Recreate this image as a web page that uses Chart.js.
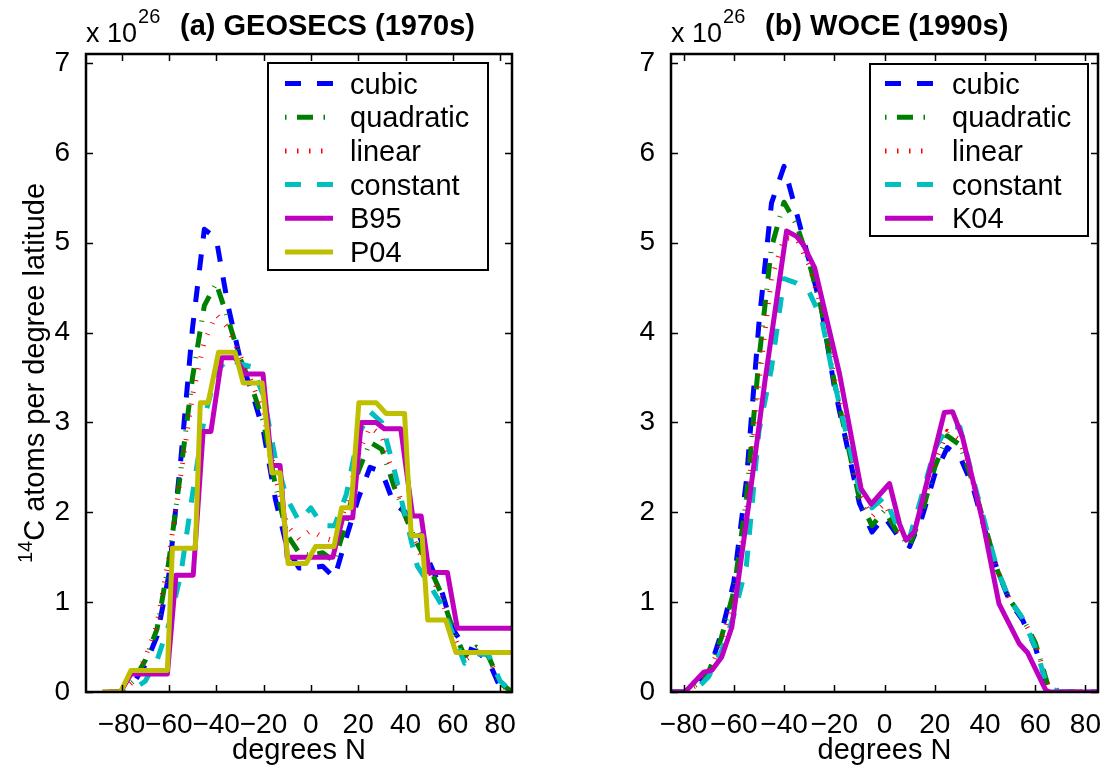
<!DOCTYPE html>
<html>
<head>
<meta charset="utf-8">
<script src="https://cdn.jsdelivr.net/npm/chart.js@4.4.1/dist/chart.umd.min.js"></script>
<style>
  body { margin: 0; background: #fff; overflow: hidden; }
  canvas { position: absolute; top: 0; }
  #graph1 { left: 0; }
  #graph2 { left: 553px; }
</style>
</head>
<body>
<canvas id="graph1" width="553" height="770"></canvas>
<canvas id="graph2" width="553" height="770"></canvas>
<script>
// latitude grid (degrees N) for the four fitted curves
const latGrid = [-85,-80,-75,-70,-65,-60,-55,-50,-45,-40,-35,-30,-25,-20,-15,-10,-5,0,5,10,15,20,25,30,35,40,45,50,55,60,65,70,75,80,85];

// (a) GEOSECS, x 10^26 atoms per degree
const geoCubic = [0,0,0.1,0.3,0.62,1.3,2.57,4.05,5.15,5.05,4.3,3.72,3.35,2.9,2.15,1.6,1.38,1.38,1.4,1.27,1.72,2.15,2.5,2.45,2.1,2.0,1.8,1.45,1.15,0.7,0.5,0.45,0.35,0.05,0];
const geoQuad  = [0,0,0.12,0.35,0.7,1.45,2.45,3.5,4.3,4.55,4.15,3.72,3.4,3.0,2.3,1.75,1.55,1.52,1.55,1.45,1.9,2.45,2.78,2.7,2.3,1.95,1.65,1.4,1.1,0.7,0.4,0.5,0.4,0.1,0];
const geoLin   = [0,0,0.12,0.38,0.75,1.5,2.4,3.3,3.9,4.2,4.05,3.75,3.45,3.1,2.4,1.85,1.7,1.8,1.72,1.68,2.1,2.65,2.95,2.85,2.4,1.95,1.6,1.35,1.05,0.65,0.35,0.45,0.4,0.08,0];
const geoConst = [0,0,0.03,0.12,0.35,0.75,1.3,2.2,3.05,3.55,3.72,3.65,3.62,3.3,2.6,2.15,1.9,2.05,1.85,1.85,2.2,2.85,3.12,3.0,2.5,1.95,1.4,1.2,0.98,0.65,0.32,0.42,0.42,0.12,0];

const b95Lat = [-88,-80.4,-76,-60.6,-57,-49.7,-45.5,-42.2,-37.6,-32,-27.8,-20.2,-16.5,-13,-10,9.3,13.5,17.7,21.3,27.6,31,38,43,46.6,50,57.7,61.9,85];
const b95    = [0,0,0.2,0.2,1.3,1.3,2.9,2.9,3.72,3.72,3.54,3.54,2.52,2.52,1.5,1.5,1.94,1.94,3.0,3.0,2.93,2.93,1.96,1.96,1.33,1.33,0.71,0.71];

const p04Lat = [-88,-80.4,-76,-60.6,-58.5,-48.8,-46.7,-43.4,-39,-32,-28.6,-20.6,-16.5,-13,-9.6,-2,2,9.8,13,17,20.3,27.6,31.8,39.6,42.4,47,49.4,57,61.3,85];
const p04    = [0,0,0.24,0.24,1.6,1.6,3.22,3.22,3.78,3.78,3.44,3.44,2.44,2.44,1.43,1.43,1.62,1.62,2.05,2.05,3.22,3.22,3.1,3.1,1.74,1.74,0.8,0.8,0.44,0.44];

// (b) WOCE
const woceCubic = [0,0,0.08,0.22,0.65,1.22,2.35,4.1,5.44,5.85,5.33,4.8,4.25,3.4,2.75,2.1,1.78,1.95,1.75,1.62,1.95,2.42,2.72,2.62,2.3,1.8,1.35,1.0,0.8,0.5,0.05,0,0,0,0];
const woceQuad  = [0,0,0.08,0.22,0.6,1.12,2.15,3.7,4.95,5.45,5.2,4.78,4.25,3.45,2.8,2.15,1.85,2.02,1.78,1.63,2.0,2.5,2.85,2.75,2.35,1.85,1.35,1.02,0.82,0.55,0.08,0,0,0,0];
const woceLin   = [0,0,0.07,0.2,0.55,1.05,2.0,3.45,4.6,5.05,5.05,4.75,4.25,3.5,2.85,2.2,1.95,2.1,1.8,1.67,2.05,2.55,2.9,2.8,2.35,1.85,1.35,1.02,0.82,0.55,0.08,0,0,0,0];
const woceConst = [0,0,0.03,0.17,0.45,0.85,1.4,2.9,3.6,4.6,4.55,4.45,4.15,3.45,2.85,2.25,2.05,2.17,1.85,1.72,2.2,2.7,2.95,2.95,2.4,1.88,1.35,1.02,0.82,0.5,0.05,0,0,0,0];

const k04Lat = [-88,-79.4,-72,-68.8,-64.8,-60.8,-57.5,-54.2,-50.9,-47.6,-39,-35,-32.4,-27.8,-17.9,-9.3,-5.3,2,6,8.6,11.9,23.8,27.1,31.1,39,45.6,53.6,56.9,64.2,66,85];
const k04    = [0,0,0.22,0.24,0.39,0.72,1.39,2.06,2.76,3.46,5.13,5.07,4.98,4.72,3.54,2.26,2.09,2.32,1.87,1.69,1.78,3.11,3.12,2.83,1.91,0.98,0.54,0.44,0.02,0,0];

const xTicks = [-80,-60,-40,-20,0,20,40,60,80];
const yTicks = [0,1,2,3,4,5,6,7];

const FAMILY = '"Liberation Sans", Arial, sans-serif';

function pts(lats, vals) {
    return lats.map((x, i) => ({ x: x, y: vals[i] }));
}

function line(label, lats, vals, color, dash, legendDash, width) {
    return {
        label: label,
        data: pts(lats, vals),
        borderColor: color,
        backgroundColor: color,
        borderWidth: width || 5,
        borderDash: dash,
        legendDash: legendDash,
        borderJoinStyle: 'round',
        pointRadius: 0,
        tension: 0,
        fill: false
    };
}

// box round the axes with inward ticks on all four sides
const boxPlugin = {
    id: 'boxTicks',
    afterDatasetsDraw(chart) {
        const c = chart.ctx, a = chart.chartArea;
        const xs = chart.scales.x, ys = chart.scales.y;
        c.save();
        c.strokeStyle = '#000';
        c.lineWidth = 1.5;
        c.beginPath();
        for (const v of xTicks) {
            const px = Math.round(xs.getPixelForValue(v)) + 0.5;
            c.moveTo(px, a.bottom); c.lineTo(px, a.bottom - 7);
            c.moveTo(px, a.top); c.lineTo(px, a.top + 7);
        }
        for (const v of yTicks) {
            const py = Math.round(ys.getPixelForValue(v)) + 0.5;
            c.moveTo(a.left, py); c.lineTo(a.left + 7, py);
            c.moveTo(a.right, py); c.lineTo(a.right - 7, py);
        }
        c.stroke();
        c.lineWidth = 2.5;
        c.strokeRect(a.left, a.top, a.right - a.left, a.bottom - a.top);
        c.restore();
    }
};

const textPlugin = {
    id: 'panelText',
    afterDraw(chart, args, opts) {
        const c = chart.ctx, a = chart.chartArea;
        c.save();
        c.fillStyle = '#000';
        c.textBaseline = 'alphabetic';
        c.textAlign = 'left';
        c.font = '27px ' + FAMILY;
        c.fillText('x 10', a.left, 42);
        const w = c.measureText('x 10').width;
        c.font = '20px ' + FAMILY;
        c.fillText('26', a.left + w + 1, 23);
        c.font = 'bold 29px ' + FAMILY;
        c.fillText(opts.title, a.left + 94, 35);
        c.font = '29px ' + FAMILY;
        c.textAlign = 'center';
        c.fillText('degrees N', (a.left + a.right) / 2, 759);
        if (opts.yLabel) {
            const mid = (a.top + a.bottom) / 2;
            c.translate(44, mid);
            c.rotate(-Math.PI / 2);
            c.textAlign = 'left';
            c.font = '20px ' + FAMILY;
            const w1 = c.measureText('14').width;
            c.font = '29px ' + FAMILY;
            const w2 = c.measureText('C atoms per degree latitude').width;
            const x0 = -(w1 + w2) / 2;
            c.font = '20px ' + FAMILY;
            c.fillText('14', x0, -12);
            c.font = '29px ' + FAMILY;
            c.fillText('C atoms per degree latitude', x0 + w1, 0);
        }
        c.restore();
    }
};

const legendPlugin = {
    id: 'boxLegend',
    afterDraw(chart, args, o) {
        const c = chart.ctx;
        c.save();
        c.fillStyle = '#fff';
        c.fillRect(o.x, o.y, o.w, o.h);
        c.strokeStyle = '#000';
        c.lineWidth = 2;
        c.strokeRect(o.x, o.y, o.w, o.h);
        c.font = '29px ' + FAMILY;
        c.textBaseline = 'alphabetic';
        c.textAlign = 'left';
        chart.data.datasets.forEach((ds, i) => {
            const y = o.row0 + i * o.step;
            c.strokeStyle = ds.borderColor;
            c.lineWidth = ds.borderWidth;
            c.setLineDash(ds.legendDash);
            c.lineCap = 'butt';
            c.beginPath();
            c.moveTo(o.s0, y);
            c.lineTo(o.s0 + 48, y);
            c.stroke();
            c.setLineDash([]);
            c.fillStyle = '#000';
            c.fillText(ds.label, o.tx, y + 10);
        });
        c.restore();
    }
};

function makeChart(id, datasets, o) {
    datasets.forEach((d, i) => { d.order = datasets.length - i; });
    const ctx = document.getElementById(id).getContext('2d');
    return new Chart(ctx, {
        type: 'line',
        data: { datasets: datasets },
        options: {
            responsive: false,
            animation: false,
            layout: { padding: { left: 0, right: o.padRight, top: 54, bottom: 0 } },
            plugins: {
                legend: { display: false },
                tooltip: { enabled: false },
                panelText: { title: o.title, yLabel: o.yLabel },
                boxLegend: o.legend
            },
            scales: {
                x: {
                    type: 'linear',
                    min: o.xmin,
                    max: 85,
                    grid: { display: false },
                    border: { display: false },
                    afterBuildTicks: s => { s.ticks = xTicks.map(v => ({ value: v })); },
                    afterFit: s => { s.height = 78; s.paddingLeft = 0; s.paddingRight = 0; },
                    ticks: {
                        autoSkip: false,
                        maxRotation: 0,
                        minRotation: 0,
                        padding: 8,
                        color: '#000',
                        font: { family: FAMILY, size: 28 },
                        callback: v => (v < 0 ? '\u2212' + Math.abs(v) : '' + v)
                    }
                },
                y: {
                    type: 'linear',
                    min: 0,
                    max: 7.1,
                    grid: { display: false },
                    border: { display: false },
                    afterBuildTicks: s => { s.ticks = yTicks.map(v => ({ value: v })); },
                    afterFit: s => { s.width = o.axisWidth; s.paddingTop = 0; s.paddingBottom = 0; },
                    ticks: {
                        padding: 8,
                        color: '#000',
                        font: { family: FAMILY, size: 28 },
                        callback: v => '' + v
                    }
                }
            }
        },
        plugins: [boxPlugin, textPlugin, legendPlugin]
    });
}

const DASH = [16, 16], DASHDOT = [16, 10, 1, 10], DOT = [1, 11];
const LEG_DASH = [16, 16], LEG_DASHDOT = [1.5, 10.5, 16, 10.5, 1.5, 60], LEG_DOT = [1.5, 10.5];

makeChart('graph1', [
    line('cubic', latGrid, geoCubic, '#0000ff', DASH, LEG_DASH),
    line('quadratic', latGrid, geoQuad, '#008000', DASHDOT, LEG_DASHDOT),
    line('linear', latGrid, geoLin, '#ff0000', DOT, LEG_DOT),
    line('constant', latGrid, geoConst, '#00bfbf', DASH, LEG_DASH),
    line('B95', b95Lat, b95, '#bf00bf', [], []),
    line('P04', p04Lat, p04, '#bfbf00', [], [])
], {
    title: '(a) GEOSECS (1970s)', yLabel: true, xmin: -95, padRight: 41, axisWidth: 86,
    legend: { x: 268, y: 63, w: 220, h: 207, s0: 285, tx: 350, row0: 83.5, step: 33.7 }
});

makeChart('graph2', [
    line('cubic', latGrid, woceCubic, '#0000ff', DASH, LEG_DASH),
    line('quadratic', latGrid, woceQuad, '#008000', DASHDOT, LEG_DASHDOT),
    line('linear', latGrid, woceLin, '#ff0000', DOT, LEG_DOT),
    line('constant', latGrid, woceConst, '#00bfbf', DASH, LEG_DASH),
    line('K04', k04Lat, k04, '#bf00bf', [], [])
], {
    title: '(b) WOCE (1990s)', yLabel: false, xmin: -85, padRight: 8, axisWidth: 118,
    legend: { x: 317, y: 64, w: 218, h: 172, s0: 332, tx: 399, row0: 83.5, step: 33.7 }
});
</script>
</body>
</html>
